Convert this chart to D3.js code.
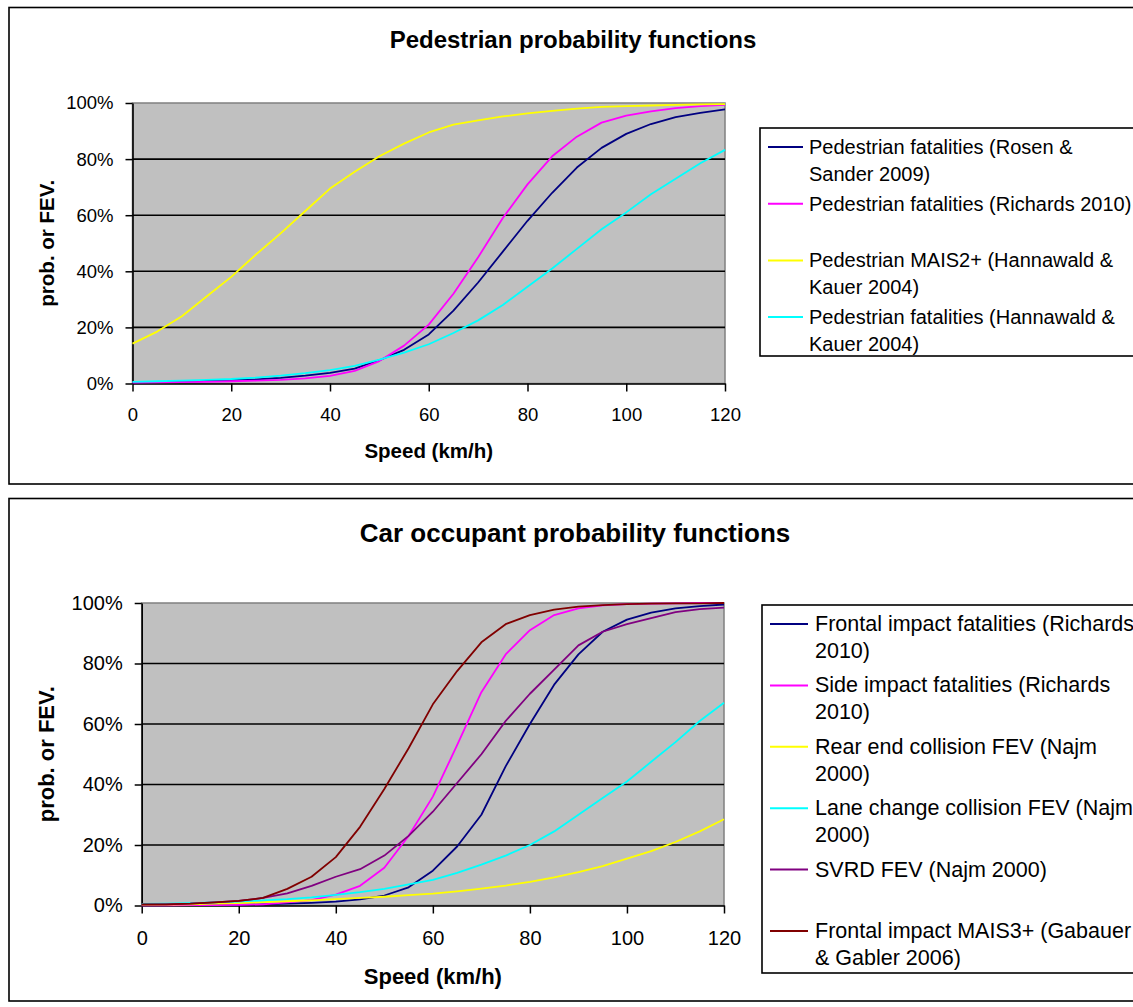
<!DOCTYPE html>
<html>
<head>
<meta charset="utf-8">
<script src="https://cdn.jsdelivr.net/npm/d3@7"></script>
<style>
  body { margin: 0; background: #fff; }
  svg { display: block; font-family: Arial, "Liberation Sans", sans-serif; }
</style>
</head>
<body>
<script>
// speeds (km/h) at which the curves were read, every 5 km/h
var speeds = [0, 5, 10, 15, 20, 25, 30, 35, 40, 45, 50, 55, 60,
              65, 70, 75, 80, 85, 90, 95, 100, 105, 110, 115, 120];

var xTicks = [0, 20, 40, 60, 80, 100, 120];
var yTicks = [0, 0.2, 0.4, 0.6, 0.8, 1];

// pedestrian chart (percent)
var pedRosen = [0.4, 0.5, 0.7, 0.9, 1.2, 1.5, 2.0, 2.8, 3.8, 5.3, 8.3, 12, 17.5,
                26, 36, 47, 58, 68, 77, 84, 89, 92.5, 95, 96.5, 97.7];
var pedRichards = [0.3, 0.4, 0.5, 0.6, 0.8, 1.0, 1.3, 1.8, 2.7, 4.5, 8.0, 13.5, 21,
                   32, 45, 59, 71, 81, 88, 93, 95.5, 97, 98.2, 98.9, 99.3];
var pedMais2 = [14.2, 18.5, 24, 31, 38, 46, 53.5, 61.5, 69.5, 75.5, 81, 85.5, 89.5,
                92.3, 93.8, 95.2, 96.3, 97.2, 98, 98.6, 98.9, 99.1, 99.3, 99.5, 99.6];
var pedHannawald = [0.6, 0.8, 1.0, 1.3, 1.6, 2.1, 2.8, 3.7, 4.8, 6.3, 8.5, 11, 14,
                    18, 22.5, 28, 34.5, 41, 48, 55, 61, 67.5, 73, 78.5, 83.3];

var pedNames = ["Pedestrian fatalities (Rosen & Sander 2009)",
                "Pedestrian fatalities (Richards 2010)",
                "Pedestrian MAIS2+ (Hannawald & Kauer 2004)",
                "Pedestrian fatalities (Hannawald & Kauer 2004)"];
var pedLegendLines = [["Pedestrian fatalities (Rosen &", "Sander 2009)"],
                      ["Pedestrian fatalities (Richards 2010)"],
                      ["Pedestrian MAIS2+ (Hannawald &", "Kauer 2004)"],
                      ["Pedestrian fatalities (Hannawald &", "Kauer 2004)"]];
var pedColors = ["#000080", "#ff00ff", "#ffff00", "#00ffff"];

// car occupant chart (percent)
var carFrontal = [0.1, 0.1, 0.1, 0.2, 0.3, 0.4, 0.6, 0.9, 1.3, 2.0, 3.3, 6, 11.5,
                  19.5, 30, 46, 60, 73, 83, 90.5, 94.5, 96.8, 98.2, 99, 99.5];
var carSide = [0.05, 0.05, 0.1, 0.1, 0.2, 0.4, 1.0, 1.8, 3.6, 6.5, 12.5, 23, 36,
               53, 70.5, 83, 91, 96, 98.2, 99.2, 99.6, 99.8, 99.9, 100, 100];
var carRear = [0.2, 0.3, 0.4, 0.6, 0.8, 1.1, 1.4, 1.7, 2.1, 2.5, 2.9, 3.4, 3.9,
               4.7, 5.6, 6.6, 7.8, 9.3, 11, 13, 15.5, 18, 21, 24.5, 28.5];
var carLane = [0.5, 0.6, 0.8, 1.0, 1.3, 1.7, 2.1, 2.7, 3.5, 4.4, 5.5, 7.0, 8.5,
               10.8, 13.5, 16.5, 20, 24.5, 30, 35.5, 41, 47.5, 54, 61, 67];
var carSvrd = [0.3, 0.4, 0.6, 1.0, 1.5, 2.5, 4, 6.5, 9.5, 12, 16.5, 23, 31,
               40.5, 50, 61, 70, 78, 86, 90.5, 93, 95, 97, 98, 98.5];
var carMais3 = [0.4, 0.4, 0.6, 1.0, 1.5, 2.5, 5.5, 9.5, 16, 26, 38.5, 52, 66.5,
                77.5, 87, 93, 96, 97.8, 98.8, 99.3, 99.6, 99.8, 99.9, 99.9, 100];

var carLegendLines = [["Frontal impact fatalities (Richards", "2010)"],
                      ["Side impact fatalities (Richards", "2010)"],
                      ["Rear end collision FEV (Najm", "2000)"],
                      ["Lane change collision FEV (Najm", "2000)"],
                      ["SVRD FEV (Najm 2000)"],
                      ["Frontal impact MAIS3+ (Gabauer", "& Gabler 2006)"]];
var carColors = ["#000080", "#ff00ff", "#ffff00", "#00ffff", "#800080", "#800000"];

var svg = d3.select("body").append("svg")
  .attr("width", 1133)
  .attr("height", 1007);

function drawPanel(p) {
  var g = svg.append("g");

  // outer chart frame (right side runs off the picture)
  g.append("rect")
    .attr("x", p.frame.x).attr("y", p.frame.y)
    .attr("width", p.frame.w).attr("height", p.frame.h)
    .attr("fill", "none").attr("stroke", "#000").attr("stroke-width", 1.6);

  var x = d3.scaleLinear().domain([0, 120]).range([p.plot.left, p.plot.right]);
  var y = d3.scaleLinear().domain([0, 1]).range([p.plot.bottom, p.plot.top]);

  g.append("rect")
    .attr("x", x(0)).attr("y", y(1))
    .attr("width", x(120) - x(0)).attr("height", y(0) - y(1))
    .attr("fill", "#c0c0c0").attr("stroke", "#808080").attr("stroke-width", 1.5);

  g.selectAll(".grid")
    .data(yTicks.slice(1, -1))
    .enter().append("line")
    .attr("x1", x(0)).attr("x2", x(120))
    .attr("y1", d => y(d)).attr("y2", d => y(d))
    .attr("stroke", "#000").attr("stroke-width", 1.6);

  var yAxis = g.append("g")
    .attr("transform", `translate(${x(0)},0)`)
    .call(d3.axisLeft(y).tickValues(yTicks).tickFormat(d3.format(".0%"))
      .tickSize(7).tickSizeOuter(0).tickPadding(p.yPad));

  var xAxis = g.append("g")
    .attr("transform", `translate(0,${y(0)})`)
    .call(d3.axisBottom(x).tickValues(xTicks).tickSize(8).tickSizeOuter(0));

  [yAxis, xAxis].forEach(a => {
    a.select(".domain").attr("stroke", "#000").attr("stroke-width", 1.6);
    a.selectAll(".tick line").attr("stroke", "#000").attr("stroke-width", 1.5);
    a.selectAll("text")
      .attr("fill", "#000")
      .style("font-family", "Arial, 'Liberation Sans', sans-serif")
      .style("font-size", p.tickSize + "px");
  });
  xAxis.selectAll("text").attr("y", p.xLabelOffset).attr("dy", "0.35em");

  var line = d3.line()
    .x((d, i) => x(speeds[i]))
    .y(d => y(d / 100));

  g.selectAll(".series")
    .data(p.series)
    .enter().append("path")
    .attr("d", d => line(d))
    .attr("fill", "none")
    .attr("stroke", (d, i) => p.colors[i])
    .attr("stroke-width", 1.8)
    .attr("stroke-linejoin", "round");

  // titles
  g.append("text")
    .attr("x", p.title.x).attr("y", p.title.y)
    .attr("text-anchor", "middle").attr("dominant-baseline", "central")
    .style("font-weight", "bold").style("font-size", p.title.size + "px")
    .text(p.title.text);

  g.append("text")
    .attr("x", (x(0) + x(120)) / 2).attr("y", p.xTitleY)
    .attr("text-anchor", "middle").attr("dominant-baseline", "central")
    .style("font-weight", "bold").style("font-size", p.axisSize + "px")
    .text("Speed (km/h)");

  g.append("text")
    .attr("transform", `translate(${p.yTitleX},${(y(0) + y(1)) / 2}) rotate(-90)`)
    .attr("text-anchor", "middle").attr("dominant-baseline", "central")
    .style("font-weight", "bold").style("font-size", p.axisSize + "px")
    .text("prob. or FEV.");

  // legend
  var lg = p.legend;
  g.append("rect")
    .attr("x", lg.x).attr("y", lg.y)
    .attr("width", 1140 - lg.x).attr("height", lg.h)
    .attr("fill", "#fff").attr("stroke", "#000").attr("stroke-width", 1.6);

  var items = g.selectAll(".legend-item")
    .data(lg.lines)
    .enter().append("g")
    .attr("transform", (d, i) => `translate(0,${lg.y + lg.first + i * lg.gap})`);

  items.append("line")
    .attr("x1", lg.x + 8).attr("x2", lg.x + lg.sample)
    .attr("y1", 0).attr("y2", 0)
    .attr("stroke", (d, i) => p.colors[i]).attr("stroke-width", 2);

  items.each(function(d) {
    var it = d3.select(this);
    d.forEach((t, k) => {
      it.append("text")
        .attr("x", lg.x + lg.textX).attr("y", k * lg.lineH)
        .attr("dominant-baseline", "central")
        .style("font-size", lg.size + "px")
        .text(t);
    });
  });
}

drawPanel({
  frame: {x: 9, y: 7.5, w: 1140, h: 476.5},
  plot: {left: 132.5, right: 725, top: 103, bottom: 383.5},
  yPad: 12, tickSize: 18.5, xLabelOffset: 31.5,
  title: {text: "Pedestrian probability functions", x: 573, y: 39, size: 24},
  axisSize: 20.5, xTitleY: 450, yTitleX: 46,
  series: [pedRosen, pedRichards, pedMais2, pedHannawald],
  colors: pedColors,
  legend: {x: 760, y: 128, h: 228, first: 19, gap: 56.7, lineH: 26.5,
           sample: 43, textX: 49, size: 20, lines: pedLegendLines}
});

drawPanel({
  frame: {x: 9, y: 498.5, w: 1140, h: 502.5},
  plot: {left: 141.7, right: 724, top: 603, bottom: 905.5},
  yPad: 12, tickSize: 20, xLabelOffset: 32.5,
  title: {text: "Car occupant probability functions", x: 575, y: 533, size: 26},
  axisSize: 22, xTitleY: 976, yTitleX: 46,
  series: [carFrontal, carSide, carRear, carLane, carSvrd, carMais3],
  colors: carColors,
  legend: {x: 762, y: 605, h: 368, first: 19, gap: 61.4, lineH: 27,
           sample: 46, textX: 53, size: 21.5, lines: carLegendLines}
});
</script>
</body>
</html>
